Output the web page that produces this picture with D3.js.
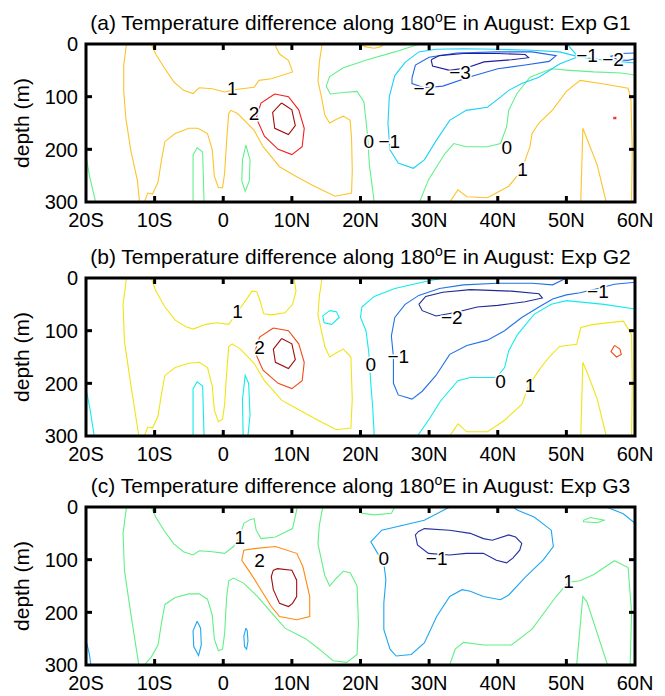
<!DOCTYPE html>
<html>
<head>
<meta charset="UTF-8">
<script src="https://d3js.org/d3.v7.min.js"></script>
<style>
  body { margin: 0; background: #fff; }
  svg { font-family: "Liberation Sans", Arial, sans-serif; }
</style>
</head>
<body>
<svg id="chart" width="665" height="696"></svg>
<script>
// axis ticks
const latTicks = [-20, -10, 0, 10, 20, 30, 40, 50, 60];
const latLabels = ["20S", "10S", "0", "10N", "20N", "30N", "40N", "50N", "60N"];
const depthTicks = [0, 100, 200, 300];
const expNames = ["G1", "G2", "G3"];
const panelTags = ["(a)", "(b)", "(c)"];

// contour lines: [lat, depth]
const linesA = [
  { level: 1, pts: [[-14.1,0],[-14.5,40],[-14.5,90],[-14.2,140],[-13.5,200],[-12.5,260],[-12.2,300]] },
  { level: 1, pts: [[7.5,0],[7.7,6],[8.2,19],[9.5,31],[10.1,53],[7,66],[5.2,69],[4.5,82],[2.1,86],[1.3,88],[0.2,91],[-1.6,85],[-3.5,83],[-4.4,94],[-5.8,88],[-7.2,72],[-8.6,45],[-9.8,20],[-10.5,0]] },
  { level: 1, pts: [[-11.5,300],[-11,283],[-10.3,285],[-9.5,262],[-9,220],[-8.5,185],[-7,170],[-5,160],[-3.7,160],[-2.3,170],[-1.6,201],[-1.3,251],[-0.7,273],[-0.1,273],[0.2,245],[0.5,182],[0.8,132],[1.1,126],[2.1,132],[4.5,164],[5.8,195],[8.2,233],[10.7,252],[13,268],[14.4,277],[16.3,289],[18.7,283],[18.8,240],[18.7,180],[18.5,145],[17.5,137],[16.5,143],[15.5,150],[14.8,135],[14.3,100],[13.8,70],[14,35],[14.4,0]] },
  { level: 1, pts: [[20,0],[20.6,5],[22,8],[23,5],[23.4,0]] },
  { level: 1, pts: [[33,300],[34.2,277],[35.5,290],[38.5,292],[41.6,270],[43.5,240],[44,220],[44.7,195],[45,170],[46,150],[48,125],[50,90],[52,69],[55,75],[59,84],[59.4,104],[59.6,200],[59.5,300]] },
  { level: 1, pts: [[52.1,300],[52.4,160],[53,180],[54.5,230],[55.8,300]] },
  { level: 2, pts: [[7.5,95],[5.5,112],[4.8,140],[6,175],[8,200],[10,210],[11.5,195],[11.8,160],[11,125],[9.5,100],[7.5,95]] },
  { level: 2, pts: [[56.9,139],[57.2,139],[57.2,142],[56.9,142],[56.9,139]] },
  { level: 3, pts: [[8.5,112],[7.2,130],[7.5,160],[9.5,172],[10.5,155],[10,125],[8.5,112]] },
  { level: 0, pts: [[-20,212],[-19.5,250],[-18.6,300]] },
  { level: 0, pts: [[-4.4,300],[-4.4,210],[-3.8,197],[-3,205],[-2.8,300]] },
  { level: 0, pts: [[3.3,192],[2.8,220],[2.7,260],[3.2,280],[3.8,260],[3.9,220],[3.3,192]] },
  { level: 0, pts: [[28.6,0],[25,15],[21,30],[17.5,45],[15.5,62],[15,80],[15.6,95],[17.5,92],[19.5,90],[20.5,110],[21,170],[21.3,230],[22,300]] },
  { level: 0, pts: [[60,59],[58,55],[54,53],[50.5,50],[47.8,47],[44.7,63],[42.8,94],[41.6,126],[41.3,157],[40.4,189],[38.5,195],[35.4,195],[33.6,189],[32.3,208],[29.9,258],[28.6,300]] },
  { level: -1, pts: [[50.1,0],[51.7,24],[55,30],[60,36]] },
  { level: -1, pts: [[51.7,24],[49,15],[45,12],[40,10],[35,9],[31,10],[28.5,15],[26.5,35],[25,60],[24.2,100],[24,151],[24.3,201],[25.5,226],[27.7,236],[29.3,220],[31.1,182],[33,145],[35.4,126],[38.5,120],[40.4,101],[41.6,88],[43.5,75],[46,63],[49,38],[51.7,24]] },
  { level: -2, pts: [[27.5,65],[28,40],[30,25],[34,17],[40,15],[45,15],[48.5,22],[47.5,33],[44,40],[40,47],[36,62],[32,80],[29.3,83],[27.5,75],[27.5,65]] },
  { level: -2, pts: [[60,17],[58,18],[56.5,23],[57.5,30],[59,31],[60,28]] },
  { level: -3, pts: [[30.3,30],[31.5,22],[35,18],[40,18],[44,20],[44.5,26],[42,30],[38,34],[35.5,45],[33,50],[30.5,42],[30.3,30]] }
];
const labelsA = [
  { t: "1", lat: 1.3, depth: 84 }, { t: "2", lat: 4.5, depth: 131 },
  { t: "0", lat: 21.2, depth: 184 }, { t: "\u22121", lat: 24.2, depth: 184 },
  { t: "\u22122", lat: 29.3, depth: 83 }, { t: "\u22123", lat: 34.5, depth: 53 },
  { t: "0", lat: 41.3, depth: 195 }, { t: "1", lat: 43.6, depth: 238 },
  { t: "\u22121", lat: 53, depth: 22 }, { t: "\u22122", lat: 56.8, depth: 28 }
];

const linesB = [
  { level: 1, pts: [[-14.1,0],[-14.6,50],[-14.4,120],[-13.5,200],[-12.3,300]] },
  { level: 1, pts: [[10.3,0],[10.6,25],[10.1,50],[9,66],[7,70],[5.9,68],[5.4,45],[4.9,26],[4.2,25],[3.4,40],[2.6,55],[2.1,63],[1.5,75],[0.8,88],[-1,85],[-2.5,88],[-4.4,97],[-5.5,92],[-7,80],[-8.5,55],[-9.8,25],[-10.5,0]] },
  { level: 1, pts: [[-11.5,300],[-11,283],[-10.3,285],[-9.5,262],[-9,220],[-8.5,185],[-7,170],[-5,162],[-3.5,160],[-2.3,170],[-1.6,205],[-1.3,251],[-0.7,273],[-0.1,268],[0.2,240],[0.5,180],[0.8,130],[1.3,125],[2.5,135],[4.5,162],[6,195],[8.5,232],[11,250],[14.5,275],[16.5,288],[18.6,285],[18.8,230],[18.6,150],[17.5,135],[16.5,142],[15.5,150],[14.8,130],[14.3,100],[13.8,70],[14,35],[14.4,0]] },
  { level: 1, pts: [[33,300],[34.2,277],[35.5,292],[38.5,292],[41,270],[43.5,240],[44.5,205],[46,175],[47.5,150],[49,130],[51.5,126],[52.1,94],[54,88],[58.3,82],[59.5,107],[59.6,200],[59.5,300]] },
  { level: 1, pts: [[52.1,300],[52.4,160],[53.2,185],[54.5,230],[55.8,300]] },
  { level: 2, pts: [[7.3,95],[5.3,112],[4.6,140],[5.8,175],[8,200],[10,210],[11.5,195],[11.8,160],[11,125],[9.5,100],[7.3,95]] },
  { level: 2, pts: [[57,128],[56.5,140],[57.3,150],[58,145],[57.8,135],[57,128]] },
  { level: 3, pts: [[8.5,115],[7.3,135],[7.6,160],[9.5,172],[10.5,155],[10,125],[8.5,115]] },
  { level: 0, pts: [[-20,210],[-19.4,250],[-18.8,300]] },
  { level: 0, pts: [[-4.4,300],[-4.4,210],[-3.8,197],[-3,205],[-2.8,300]] },
  { level: 0, pts: [[2.9,300],[2.8,230],[3.2,185],[3.7,200],[3.9,260],[3.6,300]] },
  { level: 0, pts: [[15.5,62],[14.5,72],[14.7,85],[15.8,88],[16.9,75],[16.5,64],[15.5,62]] },
  { level: 0, pts: [[32,0],[29,8],[25,20],[22,35],[20.2,55],[20,75],[20.8,100],[21.2,140],[21.5,200],[21.8,250],[22,300]] },
  { level: 0, pts: [[60,59],[55.5,50],[50,43],[47.8,50],[45.3,69],[42.9,107],[41.6,138],[41,170],[39.8,189],[36,189],[34.2,195],[31.7,233],[29.9,270],[28.3,300]] },
  { level: -1, pts: [[60,8],[57,12],[54.6,20],[52,28],[50,32],[48,40],[46,55],[43.5,75],[41,100],[38.5,118],[35.5,128],[33,145],[31,185],[29,215],[27.5,230],[25.5,222],[24.8,200],[24.8,150],[24.5,110],[25,75],[26.5,50],[28.5,33],[31.5,20],[35,13],[40,10],[45,10],[48,13],[50,0]] },
  { level: -2, pts: [[28.5,50],[29.5,35],[32,27],[36,22],[42,25],[46,30],[46.5,38],[44,45],[40,52],[37,55],[34,65],[31,72],[29,62],[28.5,50]] }
];
const labelsB = [
  { t: "1", lat: 2.1, depth: 63 }, { t: "2", lat: 5.3, depth: 132 },
  { t: "0", lat: 21.5, depth: 164 }, { t: "\u22121", lat: 25.5, depth: 148 },
  { t: "\u22122", lat: 33.3, depth: 75 }, { t: "0", lat: 40.4, depth: 195 },
  { t: "1", lat: 44.7, depth: 203 }, { t: "\u22121", lat: 54.6, depth: 25 }
];

const linesC = [
  { level: 1, pts: [[-14.1,0],[-14.6,50],[-14.4,120],[-13.5,200],[-12.3,300]] },
  { level: 1, pts: [[10.8,0],[10.7,6],[10.1,41],[7.6,57],[5.5,60],[4.8,44],[4.5,22],[3.9,24],[3,31],[2.4,57],[1.5,75],[0.2,88],[-1.6,85],[-3.5,83],[-4.4,91],[-5.8,85],[-7.2,70],[-8.6,45],[-9.8,20],[-10.5,0]] },
  { level: 1, pts: [[-11.5,300],[-10.5,285],[-9.5,262],[-9,220],[-8.5,185],[-7,172],[-5,165],[-3.5,165],[-2.3,175],[-1.6,205],[-1.3,251],[-0.7,273],[-0.1,270],[0.2,240],[0.5,170],[0.8,140],[1.5,135],[3,145],[5,170],[7,200],[9,230],[12,250],[14,270],[16,292],[18,295],[19.5,280],[19.7,220],[19.5,150],[18.5,125],[17.5,122],[16.5,135],[15.5,150],[14.8,130],[14.3,100],[13.8,70],[14,35],[14.5,0]] },
  { level: 1, pts: [[20,0],[20.2,12],[22,15],[24.5,12],[25,0]] },
  { level: 1, pts: [[52.5,25],[53.5,20],[55.5,25],[54.5,30],[52.5,28],[52.5,25]] },
  { level: 1, pts: [[33,300],[33.8,270],[35,257],[38,262],[42,262],[45,232],[48.5,170],[50.3,143],[52,140],[54,128],[57,102],[59,115],[59.5,200],[59.3,300]] },
  { level: 1, pts: [[51.5,300],[52.4,170],[53,180],[54.5,240],[56,300]] },
  { level: 2, pts: [[3,107],[2.7,101],[3,82],[4.5,79],[7.6,75],[10.7,88],[11.6,113],[12.6,170],[12.6,208],[10.7,214],[8.2,208],[7,189],[6.1,170],[5.2,151],[4,126],[3,107]] },
  { level: 3, pts: [[7.3,120],[7.9,117],[10,120],[10.7,139],[10.7,170],[10.1,183],[9.5,189],[8.2,183],[7.3,157],[7,132],[7.3,120]] },
  { level: 0, pts: [[-3.8,217],[-4.4,235],[-4.3,265],[-3.6,282],[-3.2,262],[-3.3,230],[-3.8,217]] },
  { level: 0, pts: [[3.3,230],[3,245],[3.1,265],[3.4,270],[3.6,255],[3.5,235],[3.3,230]] },
  { level: 0, pts: [[-19.9,258],[-19.5,280],[-19.3,300]] },
  { level: 0, pts: [[33,0],[29.3,25],[23.1,44],[21.5,66],[22.5,88],[23.4,107],[23.7,138],[23.4,182],[23.4,233],[24.3,270],[25.2,283],[27.4,280],[29.3,258],[31.1,208],[33,170],[34.8,157],[36,160],[37.9,170],[40.4,176],[41.6,167],[44.1,132],[46.6,101],[48.1,75],[47.8,44],[45.3,19],[42.9,6],[42.2,0]] },
  { level: 0, pts: [[55.8,0],[58.3,13],[60,31]] },
  { level: -1, pts: [[28.4,47],[28,53],[28.3,72],[29.9,88],[33,91],[35.4,88],[37.9,88],[39.8,101],[41.3,106],[42.2,97],[43.2,82],[43.5,69],[42.6,57],[41.6,53],[39.2,63],[37.9,60],[36,50],[33,44],[29.3,41],[28.4,47]] }
];
const labelsC = [
  { t: "1", lat: 2.4, depth: 57 }, { t: "2", lat: 5.3, depth: 101 },
  { t: "0", lat: 23.4, depth: 97 }, { t: "\u22121", lat: 31.1, depth: 97 },
  { t: "1", lat: 50.3, depth: 141 }
];

// contour colours per panel (jet-like)
const colorsA = { "-3": "#1f1f9e", "-2": "#2266e6", "-1": "#1ad2f5", "0": "#62f08a", "1": "#fcc42a", "2": "#f02020", "3": "#a00c0c" };
const colorsB = { "-2": "#1f2a96", "-1": "#2272e6", "0": "#10ecec", "1": "#f0e414", "2": "#f24a14", "3": "#a00c0c" };
const colorsC = { "-1": "#22309e", "0": "#1ea6f2", "1": "#62f084", "2": "#ff8a10", "3": "#a00c0c" };

const panels = [
  { lines: linesA, labels: labelsA, colors: colorsA },
  { lines: linesB, labels: labelsB, colors: colorsB },
  { lines: linesC, labels: labelsC, colors: colorsC }
];

const left = 86, right = 635, plotH = 158;
const tops = [44, 278, 507];

const svg = d3.select("#chart");

const x = d3.scaleLinear().domain([-20, 60]).range([left, right]);

panels.forEach((p, k) => {
  const top = tops[k];
  const y = d3.scaleLinear().domain([0, 300]).range([top, top + plotH]);
  const g = svg.append("g");

  g.append("clipPath").attr("id", "clip" + k)
    .append("rect").attr("x", left).attr("y", top).attr("width", right - left).attr("height", plotH);

  const line = d3.line().x(d => x(d[0])).y(d => y(d[1]));

  g.append("g").attr("clip-path", `url(#clip${k})`)
    .selectAll("path").data(p.lines).join("path")
    .attr("d", d => line(d.pts))
    .attr("fill", "none")
    .attr("stroke", d => p.colors[d.level])
    .attr("stroke-width", 1.1);

  // contour labels with white halo to break the line
  g.selectAll("text.clab").data(p.labels).join("text")
    .attr("class", "clab")
    .attr("x", d => x(d.lat))
    .attr("y", d => y(d.depth))
    .attr("dy", "0.36em")
    .attr("text-anchor", "middle")
    .attr("font-size", 19)
    .attr("fill", "#000")
    .attr("stroke", "#fff")
    .attr("stroke-width", 3)
    .attr("paint-order", "stroke")
    .text(d => d.t);

  // frame
  g.append("rect")
    .attr("x", left).attr("y", top).attr("width", right - left).attr("height", plotH)
    .attr("fill", "none").attr("stroke", "#000").attr("stroke-width", 3);

  // inward ticks on all sides
  const tl = 6;
  g.selectAll("line.xt").data(latTicks.slice(1, -1)).join("line")
    .attr("x1", d => x(d)).attr("x2", d => x(d))
    .attr("y1", top + plotH).attr("y2", top + plotH - tl)
    .attr("stroke", "#000").attr("stroke-width", 3);
  g.selectAll("line.xt2").data(latTicks.slice(1, -1)).join("line")
    .attr("x1", d => x(d)).attr("x2", d => x(d))
    .attr("y1", top).attr("y2", top + tl)
    .attr("stroke", "#000").attr("stroke-width", 3);
  g.selectAll("line.yt").data(depthTicks.slice(1, -1)).join("line")
    .attr("x1", left).attr("x2", left + tl)
    .attr("y1", d => y(d)).attr("y2", d => y(d))
    .attr("stroke", "#000").attr("stroke-width", 3);
  g.selectAll("line.yt2").data(depthTicks.slice(1, -1)).join("line")
    .attr("x1", right).attr("x2", right - tl)
    .attr("y1", d => y(d)).attr("y2", d => y(d))
    .attr("stroke", "#000").attr("stroke-width", 3);

  // tick labels
  g.selectAll("text.xl").data(latTicks).join("text")
    .attr("x", d => x(d)).attr("y", top + plotH + 25)
    .attr("text-anchor", "middle").attr("font-size", 20)
    .text((d, i) => latLabels[i]);
  g.selectAll("text.yl").data(depthTicks).join("text")
    .attr("x", left - 8).attr("y", d => y(d)).attr("dy", "0.36em")
    .attr("text-anchor", "end").attr("font-size", 20)
    .text(d => d);

  g.append("text")
    .attr("transform", `translate(29,${top + plotH / 2}) rotate(-90)`)
    .attr("text-anchor", "middle").attr("font-size", 21)
    .text("depth (m)");

  const title = g.append("text")
    .attr("x", (left + right) / 2).attr("y", top - 14)
    .attr("text-anchor", "middle").attr("font-size", 21);
  title.append("tspan").text(panelTags[k] + " Temperature difference along 180");
  title.append("tspan").attr("font-size", 14).attr("dy", -8).text("o");
  title.append("tspan").attr("dy", 8).text("E in August: Exp " + expNames[k]);
});
</script>
</body>
</html>
